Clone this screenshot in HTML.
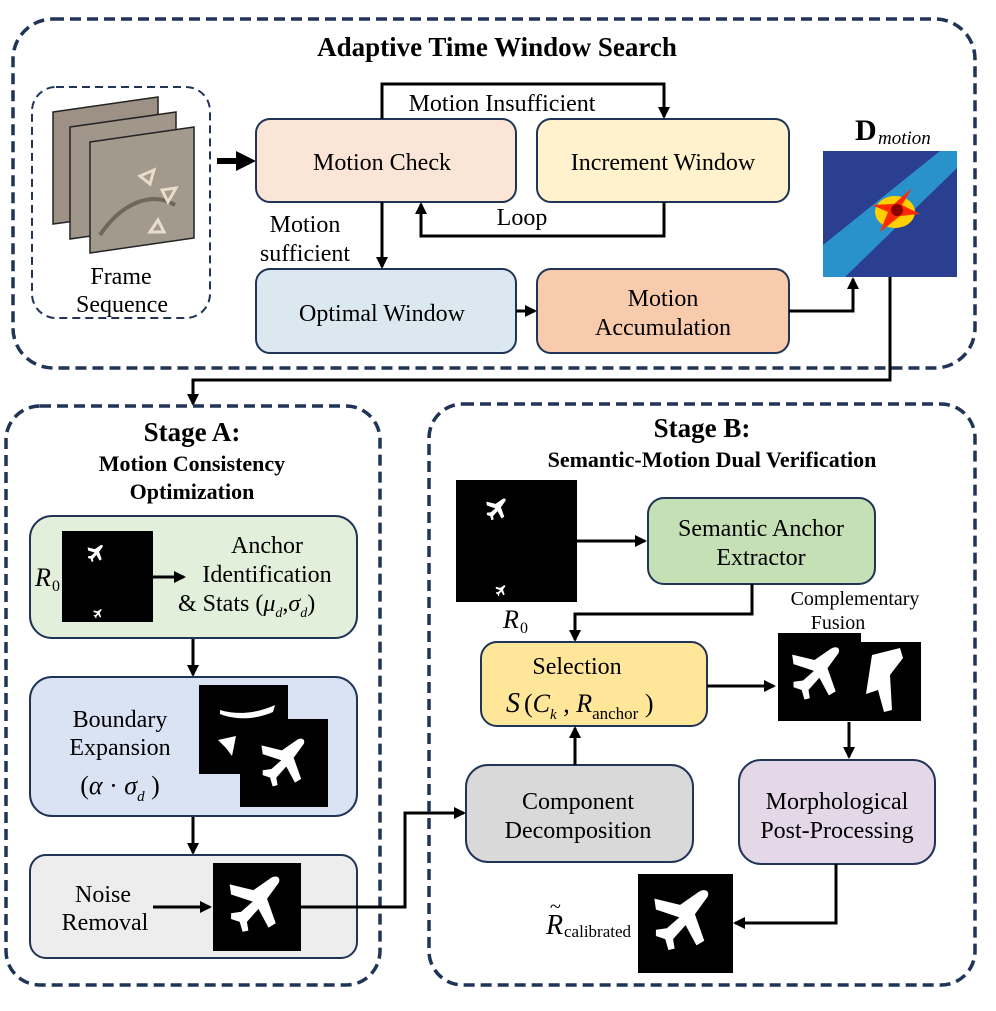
<!DOCTYPE html>
<html><head><meta charset="utf-8"><style>
html,body{margin:0;padding:0;background:#fff;}
svg{display:block;font-family:"Liberation Serif",serif;}
</style></head><body>
<svg width="996" height="1011" viewBox="0 0 996 1011" xmlns="http://www.w3.org/2000/svg">
<defs>
<marker id="ah" markerWidth="12" markerHeight="12" refX="10" refY="6" orient="auto" markerUnits="userSpaceOnUse">
<path d="M0,0 L12,6 L0,12 z" fill="#000"/></marker>
<path id="plane" d="M-38,-30 L-5,-22 L18,-38 C26,-44 34,-40 30,-32 L14,-10 L26,24 L16,30 L2,4 L-14,22 L-12,34 L-20,36 L-24,22 L-36,18 L-36,10 L-22,8 L-6,-6 L-36,-16 Z" fill="#fff"/>
</defs>

<rect x="13" y="19" width="962" height="349" rx="40" fill="none" stroke="#1f3457" stroke-width="3.5" stroke-dasharray="11,6"/>
<text x="497" y="56" font-size="27" font-weight="bold" text-anchor="middle">Adaptive Time Window Search</text>

<rect x="32" y="87" width="178" height="231" rx="24" fill="none" stroke="#1f3457" stroke-width="2" stroke-dasharray="8,5"/>
<polygon points="53,112 158,97 158,210 53,224" fill="#9c9184" stroke="#222" stroke-width="1.5"/>
<polygon points="70,127 176,112 176,224 70,239" fill="#a0968a" stroke="#222" stroke-width="1.5"/>
<polygon points="90,142 194,127 194,238 90,253" fill="#a39a8e" stroke="#222" stroke-width="1.5"/>
<path d="M100,235 C120,205 150,190 175,205" stroke="#6f675c" stroke-width="4" fill="none"/>
<polygon points="140,176 154,170 150,184" fill="none" stroke="#e8dccb" stroke-width="3"/>
<polygon points="162,190 176,188 168,202" fill="none" stroke="#e8dccb" stroke-width="3"/>
<polygon points="158,220 150,232 164,232" fill="none" stroke="#e8dccb" stroke-width="3"/>
<text x="121" y="284" font-size="24" text-anchor="middle">Frame</text>
<text x="122" y="312" font-size="24" text-anchor="middle">Sequence</text>

<line x1="217" y1="161" x2="238" y2="161" stroke="#000" stroke-width="6"/>
<polygon points="236,151 256,161 236,171" fill="#000"/>

<rect x="256" y="119" width="260" height="83" rx="14" fill="#fbe5d6" stroke="#1f3457" stroke-width="2"/>
<text x="382" y="170" font-size="24" text-anchor="middle">Motion Check</text>
<rect x="537" y="119" width="252" height="83" rx="14" fill="#fff2cc" stroke="#1f3457" stroke-width="2"/>
<text x="663" y="170" font-size="24" text-anchor="middle">Increment Window</text>
<rect x="256" y="269" width="260" height="84" rx="14" fill="#dbe8f0" stroke="#1f3457" stroke-width="2"/>
<text x="382" y="321" font-size="24" text-anchor="middle">Optimal Window</text>
<rect x="537" y="269" width="252" height="84" rx="14" fill="#f8cbad" stroke="#1f3457" stroke-width="2"/>
<text x="663" y="306" font-size="24" text-anchor="middle">Motion</text>
<text x="663" y="335" font-size="24" text-anchor="middle">Accumulation</text>

<polyline points="382,119 382,84 664,84 664,117" fill="none" stroke="#000" stroke-width="3" marker-end="url(#ah)"/>
<text x="502" y="111" font-size="24" text-anchor="middle">Motion Insufficient</text>
<polyline points="664,202 664,236 421,236 421,204" fill="none" stroke="#000" stroke-width="3" marker-end="url(#ah)"/>
<text x="522" y="225" font-size="24" text-anchor="middle">Loop</text>
<line x1="382" y1="202" x2="382" y2="267" stroke="#000" stroke-width="3" marker-end="url(#ah)"/>
<text x="305" y="232" font-size="24" text-anchor="middle">Motion</text>
<text x="305" y="261" font-size="24" text-anchor="middle">sufficient</text>
<line x1="516" y1="311" x2="535" y2="311" stroke="#000" stroke-width="3" marker-end="url(#ah)"/>
<polyline points="789,311 853,311 853,279" fill="none" stroke="#000" stroke-width="3" marker-end="url(#ah)"/>

<rect x="823" y="151" width="134" height="126" fill="#2a3f8f"/>
<polygon points="823,262 823,245 940,151 957,151 957,168 845,277 823,277" fill="#2aa7d8" opacity="0.8"/>
<ellipse cx="895" cy="212" rx="20" ry="16" fill="#ffd000"/>
<polygon points="912,188 902,205 920,214 900,216 880,232 888,212 872,205 894,204" fill="#ff2a00"/>
<circle cx="897" cy="210" r="6" fill="#8b0000"/>
<text x="855" y="140" font-size="30" font-weight="bold">D</text>
<text x="878" y="144" font-size="19" font-style="italic">motion</text>

<polyline points="890,277 890,380 193,380 193,404" fill="none" stroke="#000" stroke-width="3" marker-end="url(#ah)"/>

<rect x="6" y="406" width="374" height="579" rx="34" fill="none" stroke="#1f3457" stroke-width="3.5" stroke-dasharray="11,6"/>
<text x="192" y="441" font-size="27" font-weight="bold" text-anchor="middle">Stage A:</text>
<text x="192" y="471" font-size="22" font-weight="bold" text-anchor="middle">Motion Consistency</text>
<text x="192" y="499" font-size="22" font-weight="bold" text-anchor="middle">Optimization</text>

<rect x="30" y="516" width="327" height="122" rx="22" fill="#e2efda" stroke="#1f3457" stroke-width="2"/>
<text x="35" y="586" font-size="26" font-style="italic">R</text><text x="52" y="591" font-size="16">0</text>
<rect x="62" y="531" width="91" height="91" fill="#000"/>
<use href="#plane" transform="translate(96,554) scale(0.22)"/>
<use href="#plane" transform="translate(98,614) scale(0.12)"/>
<line x1="153" y1="577" x2="184" y2="577" stroke="#000" stroke-width="3" marker-end="url(#ah)"/>
<text x="267" y="553" font-size="24" text-anchor="middle">Anchor</text>
<text x="267" y="582" font-size="24" text-anchor="middle">Identification</text>
<text x="178" y="611" font-size="24">&amp; Stats (<tspan font-style="italic">μ</tspan><tspan font-size="14" font-style="italic" dy="6">d</tspan><tspan dy="-6">,</tspan><tspan font-style="italic">σ</tspan><tspan font-size="14" font-style="italic" dy="6">d</tspan><tspan dy="-6">)</tspan></text>
<line x1="193" y1="639" x2="193" y2="675" stroke="#000" stroke-width="3" marker-end="url(#ah)"/>

<rect x="30" y="677" width="327" height="139" rx="22" fill="#dae3f3" stroke="#1f3457" stroke-width="2"/>
<text x="120" y="727" font-size="24" text-anchor="middle">Boundary</text>
<text x="120" y="755" font-size="24" text-anchor="middle">Expansion</text>
<text x="120" y="794" font-size="26" text-anchor="middle">(<tspan font-style="italic">α</tspan> · <tspan font-style="italic">σ</tspan><tspan font-size="15" font-style="italic" dy="7">d</tspan><tspan dy="-7"> )</tspan></text>
<rect x="199" y="685" width="89" height="89" fill="#000"/>
<path d="M220,710 C240,716 260,712 275,705 L273,712 C255,720 235,720 220,714 Z" fill="#fff"/>
<path d="M218,740 L236,736 L232,756 L226,748 Z" fill="#fff"/>
<rect x="240" y="719" width="88" height="88" fill="#000"/>
<use href="#plane" transform="translate(285,764) scale(0.62)"/>
<line x1="193" y1="817" x2="193" y2="853" stroke="#000" stroke-width="3" marker-end="url(#ah)"/>

<rect x="30" y="855" width="327" height="103" rx="16" fill="#ededed" stroke="#1f3457" stroke-width="2"/>
<text x="103" y="902" font-size="24" text-anchor="middle">Noise</text>
<text x="105" y="930" font-size="24" text-anchor="middle">Removal</text>
<line x1="153" y1="907" x2="210" y2="907" stroke="#000" stroke-width="3" marker-end="url(#ah)"/>
<rect x="213" y="863" width="88" height="88" fill="#000"/>
<use href="#plane" transform="translate(257,906) scale(0.72)"/>
<polyline points="301,907 405,907 405,813 464,813" fill="none" stroke="#000" stroke-width="3" marker-end="url(#ah)"/>

<rect x="429" y="404" width="546" height="581" rx="34" fill="none" stroke="#1f3457" stroke-width="3.5" stroke-dasharray="11,6"/>
<text x="702" y="437" font-size="27" font-weight="bold" text-anchor="middle">Stage B:</text>
<text x="712" y="467" font-size="22" font-weight="bold" text-anchor="middle">Semantic-Motion Dual Verification</text>

<rect x="456" y="480" width="121" height="122" fill="#000"/>
<use href="#plane" transform="translate(497,510) scale(0.28)"/>
<use href="#plane" transform="translate(501,591) scale(0.14)"/>
<text x="503" y="628" font-size="26" font-style="italic">R</text><text x="520" y="633" font-size="16">0</text>
<line x1="577" y1="541" x2="645" y2="541" stroke="#000" stroke-width="3" marker-end="url(#ah)"/>

<rect x="648" y="498" width="227" height="86" rx="16" fill="#c5e0b4" stroke="#1f3457" stroke-width="2"/>
<text x="761" y="536" font-size="24" text-anchor="middle">Semantic Anchor</text>
<text x="761" y="565" font-size="24" text-anchor="middle">Extractor</text>
<polyline points="752,584 752,614 575,614 575,640" fill="none" stroke="#000" stroke-width="3" marker-end="url(#ah)"/>

<rect x="481" y="642" width="226" height="84" rx="16" fill="#ffe699" stroke="#1f3457" stroke-width="2"/>
<text x="577" y="674" font-size="24" text-anchor="middle">Selection</text>
<text x="506" y="712" font-size="28" font-style="italic">S</text>
<text x="524" y="712" font-size="26">(<tspan font-style="italic">C</tspan><tspan font-size="15" font-style="italic" dy="7">k</tspan><tspan dy="-7"> , </tspan><tspan font-style="italic">R</tspan><tspan font-size="17" dy="7">anchor</tspan><tspan dy="-7"> )</tspan></text>
<line x1="707" y1="686" x2="774" y2="686" stroke="#000" stroke-width="3" marker-end="url(#ah)"/>

<text x="855" y="605" font-size="20" text-anchor="middle">Complementary</text>
<text x="838" y="629" font-size="20" text-anchor="middle">Fusion</text>
<rect x="820" y="642" width="101" height="79" fill="#000"/>
<path d="M872,655 L900,648 L903,658 L890,675 L892,710 L884,712 L878,690 L866,694 Z" fill="#fff"/>
<rect x="778" y="633" width="83" height="88" fill="#000"/>
<use href="#plane" transform="translate(818,675) scale(0.68)"/>
<line x1="849" y1="722" x2="849" y2="757" stroke="#000" stroke-width="3" marker-end="url(#ah)"/>

<rect x="466" y="765" width="227" height="97" rx="22" fill="#d9d9d9" stroke="#1f3457" stroke-width="2"/>
<text x="578" y="809" font-size="24" text-anchor="middle">Component</text>
<text x="578" y="838" font-size="24" text-anchor="middle">Decomposition</text>
<line x1="575" y1="765" x2="575" y2="728" stroke="#000" stroke-width="3" marker-end="url(#ah)"/>

<rect x="739" y="760" width="196" height="104" rx="22" fill="#e4d7e7" stroke="#1f3457" stroke-width="2"/>
<text x="837" y="809" font-size="24" text-anchor="middle">Morphological</text>
<text x="837" y="838" font-size="24" text-anchor="middle">Post-Processing</text>
<polyline points="836,864 836,923 735,923" fill="none" stroke="#000" stroke-width="3" marker-end="url(#ah)"/>

<rect x="638" y="874" width="95" height="99" fill="#000"/>
<use href="#plane" transform="translate(684,922) scale(0.78)"/>
<text x="546" y="934" font-size="28" font-style="italic">R</text>
<text x="550" y="913" font-size="20">~</text>
<text x="564" y="937" font-size="17">calibrated</text>
</svg>
</body></html>
